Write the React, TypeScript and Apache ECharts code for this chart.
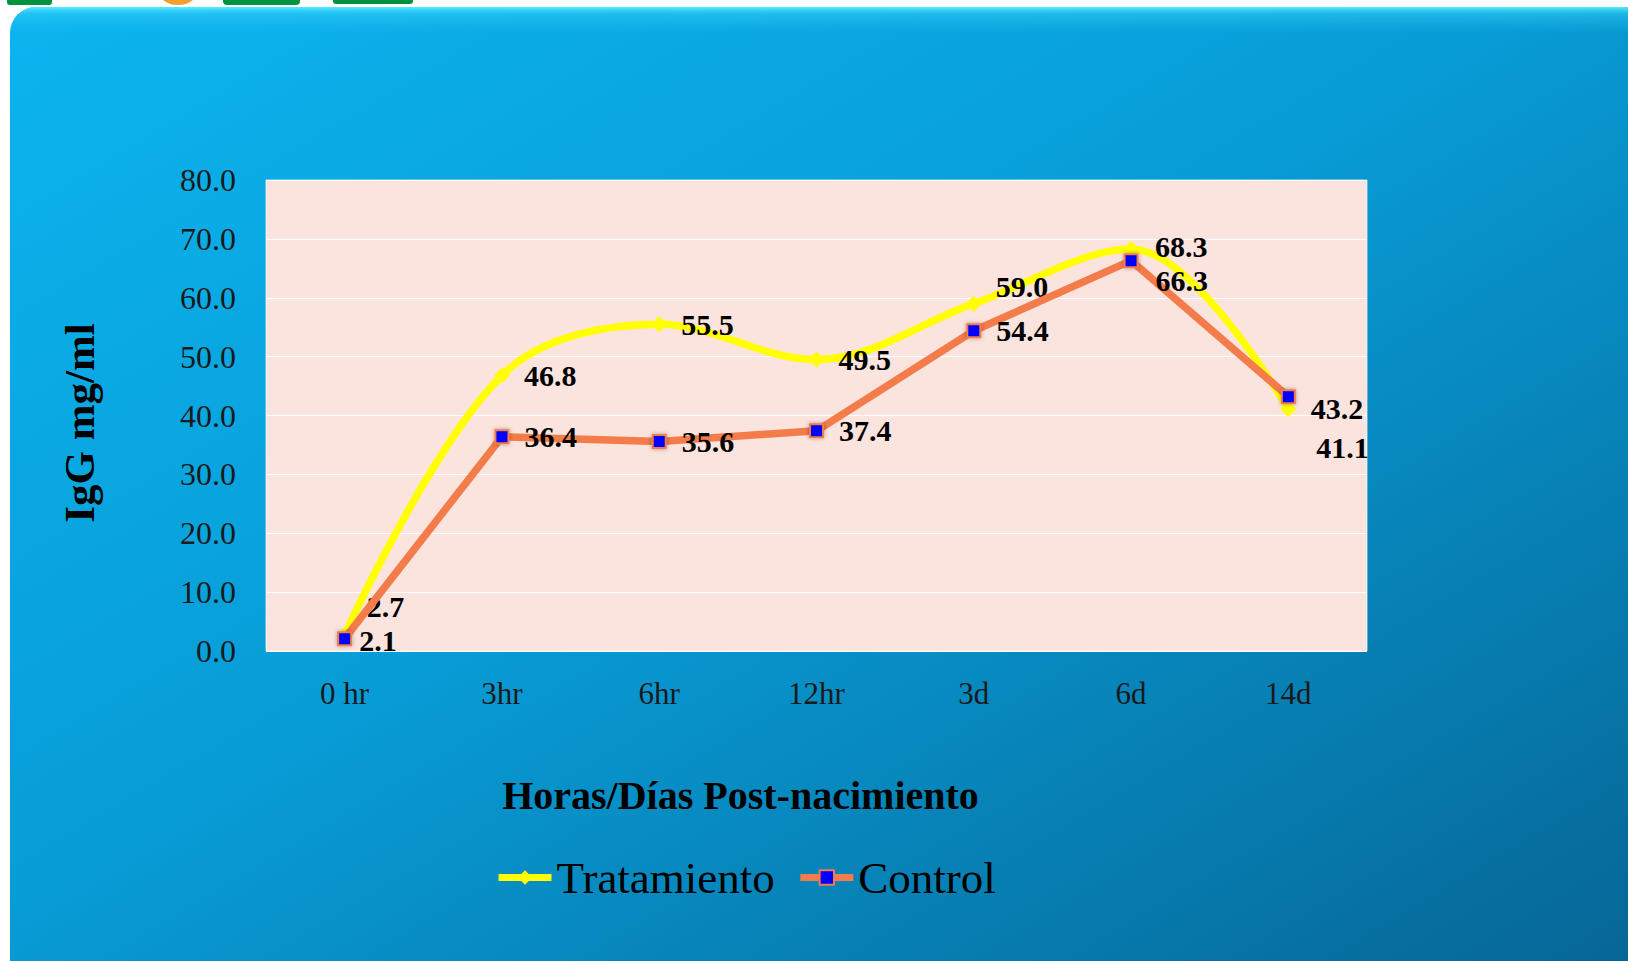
import React, { useEffect, useRef } from "react";
import * as echarts from "echarts";

const categories = ["0 hr", "3hr", "6hr", "12hr", "3d", "6d", "14d"];
const tratamiento = [2.7, 46.8, 55.5, 49.5, 59.0, 68.3, 41.1];
const control = [2.1, 36.4, 35.6, 37.4, 54.4, 66.3, 43.2];
const yTicks = { min: 0, max: 80, interval: 10 };

// label layout nudges (layout only)
const tratLabelOffsets = [[0, -29], [0, 0], [0, 0], [0, 0], [0, -17], [2, -2], [6, 38]];
const ctrlLabelOffsets = [[-8, 2], [0, 0], [0, 0], [0, 0], [0, 0], [2, 20], [0, 12]];

const FONT = '"Liberation Serif", "Times New Roman", serif';
const YELLOW = "#FFFF00";
const ORANGE = "#F47B4A";

export default function App() {
  const ref = useRef<HTMLDivElement>(null);
  useEffect(() => {
    if (!ref.current) return;
    const chart = echarts.init(ref.current, undefined, { renderer: "svg" });
    const labelBase = {
      show: true,
      position: "right",
      fontFamily: FONT,
      fontSize: 30,
      fontWeight: "bold",
      color: "#000",
      formatter: (p: any) => Number(p.value).toFixed(1),
    };
    chart.setOption({
      animation: false,
      backgroundColor: "#ffffff",
      graphic: [
        // logo fragments at very top
        { type: "rect", z: -20, shape: { x: 7, y: -6, width: 45, height: 11, r: 3 }, style: { fill: "#00923F" } },
        { type: "ellipse", z: -20, shape: { cx: 178, cy: -8, rx: 19, ry: 13 }, style: { fill: "#F5A02E" } },
        { type: "rect", z: -20, shape: { x: 223, y: -6, width: 77, height: 11, r: 4 }, style: { fill: "#00923F" } },
        { type: "rect", z: -20, shape: { x: 333, y: -6, width: 80, height: 10, r: 3 }, style: { fill: "#00923F" } },
        {
          type: "rect",
          z: -20,
          shape: { x: 10, y: 7, width: 1640, height: 980, r: 26 },
          style: {
            fill: new echarts.graphic.LinearGradient(0, 0, 1, 1, [
              { offset: 0, color: "#0CB4EF" },
              { offset: 0.45, color: "#089DD7" },
              { offset: 1, color: "#066594" },
            ]),
          },
        },
        {
          type: "rect",
          z: -19,
          shape: { x: 10, y: 7, width: 1640, height: 26, r: [26, 26, 0, 0] },
          style: {
            fill: new echarts.graphic.LinearGradient(0, 0, 0, 1, [
              { offset: 0, color: "rgba(90,240,255,0.95)" },
              { offset: 0.25, color: "rgba(60,215,250,0.45)" },
              { offset: 1, color: "rgba(40,200,245,0)" },
            ]),
          },
        },
      ],
      grid: {
        left: 266,
        top: 180,
        width: 1101,
        height: 471,
        show: true,
        backgroundColor: "#FBE4DD",
        borderColor: "rgba(255,255,255,0.7)",
        borderWidth: 1,
      },
      legend: {
        left: 490,
        top: 850,
        itemWidth: 53,
        itemHeight: 18,
        itemGap: 22,
        lineStyle: { width: 7 },
        textStyle: { fontFamily: FONT, fontSize: 45, color: "#000" },
        data: ["Tratamiento", "Control"],
      },
      xAxis: {
        type: "category",
        data: categories,
        boundaryGap: true,
        axisLine: { show: false },
        axisTick: { show: false },
        axisLabel: { margin: 27, fontFamily: FONT, fontSize: 31, color: "#1a1a1a" },
        name: "Horas/Días Post-nacimiento",
        nameLocation: "middle",
        nameGap: 124,
        nameTextStyle: {
          fontFamily: FONT,
          fontSize: 40,
          fontWeight: "bold",
          color: "#000",
          padding: [0, 152, 0, 0],
        },
      },
      yAxis: {
        type: "value",
        min: yTicks.min,
        max: yTicks.max,
        interval: yTicks.interval,
        axisLine: { show: false },
        axisTick: { show: false },
        splitLine: { lineStyle: { color: "rgba(255,255,255,0.95)", width: 1.2 } },
        axisLabel: {
          margin: 30,
          fontFamily: FONT,
          fontSize: 32,
          color: "#1a1a1a",
          formatter: (v: number) => v.toFixed(1),
        },
        name: "IgG mg/ml",
        nameLocation: "middle",
        nameRotate: 90,
        nameGap: 165,
        nameTextStyle: {
          fontFamily: FONT,
          fontSize: 43,
          fontWeight: "bold",
          color: "#000",
          padding: [0, 15, 0, 0],
        },
      },
      series: [
        {
          name: "Tratamiento",
          type: "line",
          smooth: 0.35,
          z: 2,
          data: tratamiento.map((v, i) => ({
            value: v,
            label: { offset: tratLabelOffsets[i] },
          })),
          symbol: "diamond",
          symbolSize: 16,
          lineStyle: { color: YELLOW, width: 7.5 },
          itemStyle: { color: YELLOW, borderWidth: 0 },
          label: { ...labelBase, distance: 14 },
        },
        {
          name: "Control",
          type: "line",
          smooth: false,
          z: 3,
          data: control.map((v, i) => ({
            value: v,
            label: { offset: ctrlLabelOffsets[i] },
          })),
          symbol: "rect",
          symbolSize: 13,
          lineStyle: { color: ORANGE, width: 7.5 },
          itemStyle: {
            color: "#0000FF",
            borderColor: ORANGE,
            borderWidth: 2,
            shadowBlur: 4,
            shadowColor: "rgba(0,0,0,0.35)",
          },
          label: { ...labelBase, distance: 15 },
        },
      ],
    });
    return () => chart.dispose();
  }, []);
  return (
    <div
      ref={ref}
      style={{ position: "fixed", left: 0, top: 0, width: 1628, height: 961 }}
    />
  );
}
